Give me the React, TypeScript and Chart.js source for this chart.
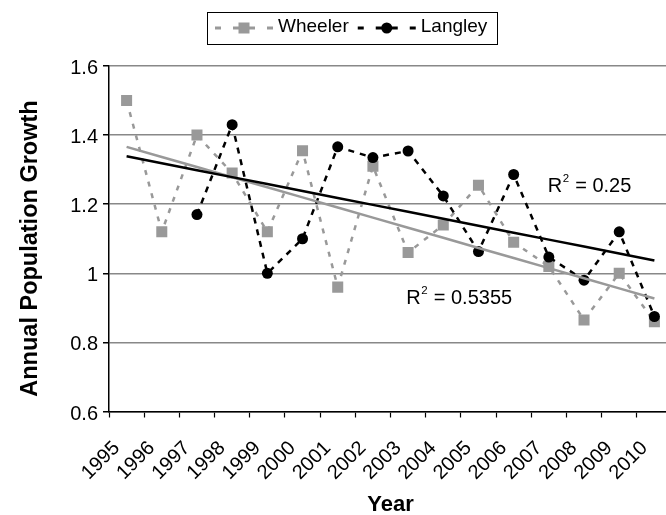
import React, { useEffect, useRef } from 'react';
import { Chart, registerables } from 'chart.js';

Chart.register(...registerables);

const FONT = '"Liberation Sans", Arial, sans-serif';

// ---- data ----
const years = ['1995', '1996', '1997', '1998', '1999', '2000', '2001', '2002', '2003', '2004', '2005', '2006', '2007', '2008', '2009', '2010'];
const wheeler = [1.5, 1.12, 1.4, 1.29, 1.12, 1.355, 0.96, 1.31, 1.06, 1.14, 1.255, 1.09, 1.02, 0.865, 1.0, 0.86];
const langley = [null, null, 1.17, 1.43, 1.0, 1.1, 1.366, 1.335, 1.354, 1.224, 1.063, 1.286, 1.047, 0.98, 1.12, 0.875];
const seriesNames = ['Wheeler', 'Langley'];
const yTickValues = [0.6, 0.8, 1.0, 1.2, 1.4, 1.6];
const yTickLabels = ['0.6', '0.8', '1', '1.2', '1.4', '1.6'];
const r2Langley = '0.25';
const r2Wheeler = '0.5355';

// ---- styles ----
const GRAY = '#999999';
const BLACK = '#000000';

// least-squares trendline over the category index (as the spreadsheet does)
function trend(values: (number | null)[]): number[] {
  const pts = values.map((v, i) => [i, v] as [number, number | null]).filter((p) => p[1] !== null) as [number, number][];
  const n = pts.length;
  const mx = pts.reduce((s, p) => s + p[0], 0) / n;
  const my = pts.reduce((s, p) => s + p[1], 0) / n;
  let sxy = 0;
  let sxx = 0;
  pts.forEach(([x, y]) => {
    sxy += (x - mx) * (y - my);
    sxx += (x - mx) * (x - mx);
  });
  const b = sxy / sxx;
  const a = my - b * mx;
  return values.map((_, i) => a + b * i);
}

const r2Notes = [
  { value: r2Langley, xIndex: 11.97, y: 1.25 },
  { value: r2Wheeler, xIndex: 7.95, y: 0.926 },
];

const legendEntries = [
  { name: seriesNames[0], color: GRAY, marker: 'rect' },
  { name: seriesNames[1], color: BLACK, marker: 'circle' },
];

const r2Plugin = {
  id: 'r2Labels',
  afterDatasetsDraw(chart: any) {
    const { ctx, scales } = chart;
    r2Notes.forEach((n) => {
      const px = scales.x.getPixelForValue(n.xIndex);
      const py = scales.y.getPixelForValue(n.y);
      ctx.save();
      ctx.fillStyle = '#000';
      ctx.textAlign = 'left';
      ctx.textBaseline = 'middle';
      ctx.font = `20px ${FONT}`;
      ctx.fillText('R', px, py);
      const wR = ctx.measureText('R').width;
      ctx.font = `11.5px ${FONT}`;
      ctx.fillText('2', px + wR + 0.5, py - 8);
      const w2 = ctx.measureText('2').width;
      ctx.font = `20px ${FONT}`;
      ctx.fillText(' = ' + n.value, px + wR + w2 + 1, py);
      ctx.restore();
    });
  },
};

const legendPlugin = {
  id: 'boxedLegend',
  afterDraw(chart: any) {
    const ctx = chart.ctx;
    const centerX = 352.5;
    const top = 12;
    const height = 32;
    const sampleW = 58;
    const gapText = 5;
    const gapItem = 9;
    const padL = 8;
    const padR = 10;
    ctx.save();
    ctx.font = `19px ${FONT}`;
    const widths = legendEntries.map((e) => ctx.measureText(e.name).width);
    const total = padL + padR + widths.reduce((s, w) => s + sampleW + gapText + w, 0) + gapItem * (legendEntries.length - 1);
    const left = Math.round(centerX - total / 2);
    ctx.strokeStyle = '#000';
    ctx.lineWidth = 1;
    ctx.strokeRect(left + 0.5, top + 0.5, Math.round(total), height);
    const cy = top + height / 2;
    let x = left + padL;
    legendEntries.forEach((e, i) => {
      const c = x + sampleW / 2;
      ctx.strokeStyle = e.color;
      ctx.fillStyle = e.color;
      ctx.lineWidth = 3;
      ctx.setLineDash([]);
      ctx.beginPath();
      ctx.moveTo(x, cy);
      ctx.lineTo(x + 6, cy);
      ctx.moveTo(c - 11, cy);
      ctx.lineTo(c + 11, cy);
      ctx.moveTo(x + sampleW - 6, cy);
      ctx.lineTo(x + sampleW, cy);
      ctx.stroke();
      if (e.marker === 'rect') {
        ctx.fillRect(c - 5.5, cy - 5.5, 11, 11);
      } else {
        ctx.beginPath();
        ctx.arc(c, cy, 5.5, 0, Math.PI * 2);
        ctx.fill();
      }
      ctx.fillStyle = '#000';
      ctx.textAlign = 'left';
      ctx.textBaseline = 'middle';
      ctx.fillText(e.name, x + sampleW + gapText, cy - 1);
      x += sampleW + gapText + widths[i] + gapItem;
    });
    ctx.restore();
  },
};

export default function App() {
  const canvasRef = useRef<HTMLCanvasElement | null>(null);

  useEffect(() => {
    if (!canvasRef.current) return;
    const chart = new Chart(canvasRef.current, {
      type: 'line',
      data: {
        labels: years,
        datasets: [
          {
            label: 'Langley trend',
            data: trend(langley),
            borderColor: BLACK,
            borderWidth: 2.5,
            pointRadius: 0,
            fill: false,
          },
          {
            label: 'Wheeler trend',
            data: trend(wheeler),
            borderColor: GRAY,
            borderWidth: 2.5,
            pointRadius: 0,
            fill: false,
          },
          {
            label: seriesNames[1],
            data: langley,
            borderColor: BLACK,
            borderWidth: 2.5,
            borderDash: [6, 6],
            pointStyle: 'circle',
            pointRadius: 5.5,
            pointBorderWidth: 0,
            pointBackgroundColor: BLACK,
            pointBorderColor: BLACK,
            fill: false,
            spanGaps: false,
          },
          {
            label: seriesNames[0],
            data: wheeler,
            borderColor: GRAY,
            borderWidth: 2.5,
            borderDash: [5, 7],
            pointStyle: 'rect',
            pointRadius: 7.8,
            pointBorderWidth: 0,
            pointBackgroundColor: GRAY,
            pointBorderColor: GRAY,
            fill: false,
          },
        ],
      },
      options: {
        responsive: false,
        animation: false,
        devicePixelRatio: 1,
        layout: { padding: { top: 66, left: 0, right: 8, bottom: 0 } },
        plugins: {
          legend: { display: false },
          tooltip: { enabled: false },
        },
        elements: { line: { tension: 0 } },
        scales: {
          x: {
            type: 'category',
            offset: true,
            grid: {
              display: true,
              drawOnChartArea: false,
              drawTicks: true,
              offset: true,
              tickLength: 6,
              tickColor: '#000',
              tickWidth: 1.2,
            },
            border: { display: true, color: '#000', width: 1.5 },
            ticks: {
              autoSkip: false,
              minRotation: 45,
              maxRotation: 45,
              padding: 19,
              labelOffset: -10,
              color: '#000',
              font: { family: FONT, size: 20 },
            },
            title: {
              display: true,
              text: 'Year',
              color: '#000',
              font: { family: FONT, size: 22, weight: 'bold' },
              padding: { top: 0, bottom: -3 },
            },
            afterFit(scale: any) {
              scale.height = 103.5;
              scale.paddingLeft = 0;
              scale.paddingRight = 0;
            },
          },
          y: {
            min: 0.6,
            max: 1.6,
            afterBuildTicks(scale: any) {
              scale.ticks = yTickValues.map((v) => ({ value: v }));
            },
            grid: {
              color: '#888888',
              lineWidth: 1.5,
              tickLength: 6,
              tickColor: '#000',
            },
            border: { display: true, color: '#000', width: 1.5 },
            ticks: {
              padding: 5,
              labelOffset: 2.5,
              color: '#000',
              font: { family: FONT, size: 20 },
              callback: (_v: any, i: number) => yTickLabels[i],
            },
            title: {
              display: true,
              text: 'Annual Population Growth   ',
              color: '#000',
              font: { family: FONT, size: 23.5, weight: 'bold' },
              padding: { top: 16, bottom: 0 },
            },
            afterFit(scale: any) {
              scale.width = 109;
            },
          },
        },
      },
      plugins: [r2Plugin, legendPlugin],
    } as any);
    return () => chart.destroy();
  }, []);

  return (
    <div
      style={{
        position: 'fixed',
        left: 0,
        top: 0,
        width: 666,
        height: 515,
        overflow: 'hidden',
        background: '#fff',
      }}
    >
      <canvas ref={canvasRef} width={680} height={515} style={{ display: 'block', width: 680, height: 515 }} />
    </div>
  );
}
